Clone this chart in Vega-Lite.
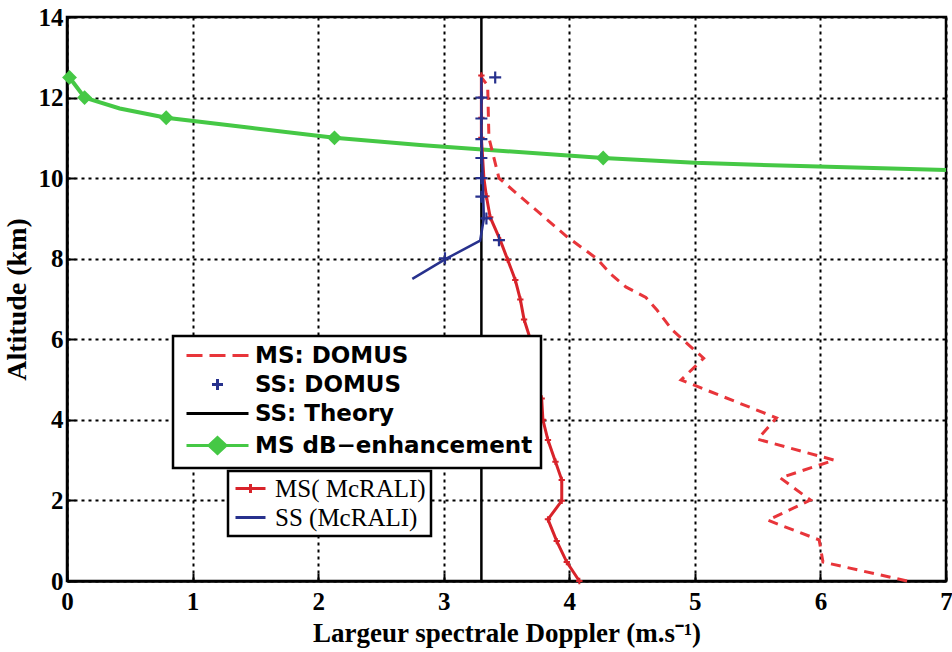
{
  "$schema": "https://vega.github.io/schema/vega-lite/v6.json",
  "width": 879,
  "height": 564,
  "autosize": {"type": "none"},
  "padding": {"left": 67, "top": 17, "right": 6, "bottom": 71},
  "background": "white",
  "config": {
    "view": {"stroke": "black", "strokeWidth": 2.5},
    "axis": {
      "domainColor": "black", "domainWidth": 2.5,
      "grid": true, "gridColor": "black", "gridDash": [3, 4], "gridWidth": 2, "gridOpacity": 1,
      "tickColor": "black", "tickWidth": 2, "tickSize": -8,
      "labelFont": "Liberation Serif", "labelFontWeight": "bold", "labelFontSize": 25, "labelColor": "black",
      "titleFont": "Liberation Serif", "titleFontWeight": "bold", "titleFontSize": 27, "titleColor": "black"
    },
    "legend": {"strokeWidth": 2.5}
  },
  "datasets": {
    "theory": [{"doppler": 3.3}],
    "green_line": [
      {"doppler": 0.02, "altitude": 12.5}, {"doppler": 0.14, "altitude": 12.0}, {"doppler": 0.42, "altitude": 11.73},
      {"doppler": 0.79, "altitude": 11.5}, {"doppler": 1.46, "altitude": 11.25}, {"doppler": 2.13, "altitude": 11.0},
      {"doppler": 2.81, "altitude": 10.82}, {"doppler": 3.5, "altitude": 10.67}, {"doppler": 4.27, "altitude": 10.5},
      {"doppler": 5.0, "altitude": 10.38}, {"doppler": 5.84, "altitude": 10.3}, {"doppler": 7.0, "altitude": 10.2}
    ],
    "green_markers": [
      {"doppler": 0.02, "altitude": 12.5}, {"doppler": 0.14, "altitude": 12.0}, {"doppler": 0.79, "altitude": 11.5},
      {"doppler": 2.13, "altitude": 11.0}, {"doppler": 4.27, "altitude": 10.5}
    ],
    "ms_domus": [
      {"doppler": 6.69, "altitude": 0.0}, {"doppler": 6.02, "altitude": 0.47}, {"doppler": 5.99, "altitude": 1.02},
      {"doppler": 5.58, "altitude": 1.51}, {"doppler": 5.92, "altitude": 2.01}, {"doppler": 5.68, "altitude": 2.56},
      {"doppler": 6.11, "altitude": 3.0}, {"doppler": 5.5, "altitude": 3.52}, {"doppler": 5.65, "altitude": 4.05},
      {"doppler": 4.89, "altitude": 4.99}, {"doppler": 5.07, "altitude": 5.53}, {"doppler": 4.95, "altitude": 5.86},
      {"doppler": 4.82, "altitude": 6.23}, {"doppler": 4.7, "altitude": 6.72}, {"doppler": 4.61, "altitude": 7.04},
      {"doppler": 4.45, "altitude": 7.3}, {"doppler": 4.33, "altitude": 7.62}, {"doppler": 4.22, "altitude": 8.0},
      {"doppler": 3.98, "altitude": 8.55}, {"doppler": 3.44, "altitude": 10.0}, {"doppler": 3.36, "altitude": 11.0},
      {"doppler": 3.35, "altitude": 12.3}, {"doppler": 3.3, "altitude": 12.5}
    ],
    "ss_domus": [
      {"doppler": 3.01, "altitude": 8.01}, {"doppler": 3.44, "altitude": 8.46}, {"doppler": 3.34, "altitude": 9.0},
      {"doppler": 3.3, "altitude": 9.54}, {"doppler": 3.3, "altitude": 10.0}, {"doppler": 3.3, "altitude": 10.5},
      {"doppler": 3.3, "altitude": 10.97}, {"doppler": 3.3, "altitude": 11.48}, {"doppler": 3.3, "altitude": 12.0},
      {"doppler": 3.41, "altitude": 12.5}
    ],
    "ms_mcrali": [
      {"doppler": 4.08, "altitude": 0.0}, {"doppler": 3.98, "altitude": 0.47}, {"doppler": 3.9, "altitude": 0.99},
      {"doppler": 3.83, "altitude": 1.53}, {"doppler": 3.94, "altitude": 1.99}, {"doppler": 3.94, "altitude": 2.51},
      {"doppler": 3.89, "altitude": 2.96}, {"doppler": 3.83, "altitude": 3.5}, {"doppler": 3.79, "altitude": 4.0},
      {"doppler": 3.78, "altitude": 4.53}, {"doppler": 3.73, "altitude": 4.99}, {"doppler": 3.7, "altitude": 5.48},
      {"doppler": 3.69, "altitude": 6.0}, {"doppler": 3.64, "altitude": 6.49}, {"doppler": 3.61, "altitude": 6.99},
      {"doppler": 3.57, "altitude": 7.47}, {"doppler": 3.51, "altitude": 7.97}, {"doppler": 3.45, "altitude": 8.46},
      {"doppler": 3.37, "altitude": 9.03}, {"doppler": 3.34, "altitude": 9.55}, {"doppler": 3.32, "altitude": 10.0},
      {"doppler": 3.31, "altitude": 10.5}, {"doppler": 3.3, "altitude": 11.0}, {"doppler": 3.3, "altitude": 11.5},
      {"doppler": 3.3, "altitude": 12.0}, {"doppler": 3.3, "altitude": 12.55}
    ],
    "ss_mcrali": [
      {"doppler": 2.75, "altitude": 7.5}, {"doppler": 3.02, "altitude": 8.0}, {"doppler": 3.29, "altitude": 8.45},
      {"doppler": 3.32, "altitude": 9.0}, {"doppler": 3.31, "altitude": 10.0}, {"doppler": 3.3, "altitude": 11.0},
      {"doppler": 3.3, "altitude": 12.5}
    ],
    "legend_a": [
      {"series": "MS: DOMUS"}, {"series": "SS: DOMUS"}, {"series": "SS: Theory"}, {"series": "MS dB\u2212enhancement"}
    ],
    "legend_b": [
      {"model": "MS( McRALI)"}, {"model": "SS (McRALI)"}
    ]
  },
  "layer": [
    {
      "data": {"name": "theory"},
      "mark": {"type": "rule", "color": "black", "strokeWidth": 2.5},
      "encoding": {
        "x": {"field": "doppler", "type": "quantitative",
              "scale": {"domain": [0, 7], "nice": false},
              "axis": {"values": [0, 1, 2, 3, 4, 5, 6, 7], "format": "d", "labelPadding": 16, "labelFlush": false,
                       "title": "Largeur spectrale Doppler (m.s\u207b\u00b9)", "titlePadding": 6}}
      }
    },
    {
      "data": {"name": "green_line"},
      "mark": {"type": "line", "color": "#45c845", "strokeWidth": 4},
      "encoding": {
        "x": {"field": "doppler", "type": "quantitative"},
        "y": {"field": "altitude", "type": "quantitative",
              "scale": {"domain": [0, 14], "nice": false},
              "axis": {"values": [0, 2, 4, 6, 8, 10, 12, 14], "format": "d", "labelPadding": 12, "labelFlush": false,
                       "title": "Altitude (km)", "titleFontSize": 28, "titlePadding": 7}}
      }
    },
    {
      "data": {"name": "ms_domus"},
      "mark": {"type": "line", "color": "#e8353a", "strokeWidth": 3, "strokeDash": [10, 7]},
      "encoding": {
        "x": {"field": "doppler", "type": "quantitative"},
        "y": {"field": "altitude", "type": "quantitative"},
        "order": {"field": "altitude", "type": "quantitative"}
      }
    },
    {
      "data": {"name": "ms_mcrali"},
      "mark": {"type": "line", "color": "#d8232a", "strokeWidth": 3,
               "point": {"shape": "M-1,0H1M0,-1V1", "size": 40, "filled": false, "strokeWidth": 2, "color": "#d8232a"}},
      "encoding": {
        "x": {"field": "doppler", "type": "quantitative"},
        "y": {"field": "altitude", "type": "quantitative"},
        "order": {"field": "altitude", "type": "quantitative"}
      }
    },
    {
      "data": {"name": "ss_mcrali"},
      "mark": {"type": "line", "color": "#27318d", "strokeWidth": 2.5},
      "encoding": {
        "x": {"field": "doppler", "type": "quantitative"},
        "y": {"field": "altitude", "type": "quantitative"},
        "order": {"field": "altitude", "type": "quantitative"}
      }
    },
    {
      "data": {"name": "ss_domus"},
      "mark": {"type": "point", "shape": "M-1,0H1M0,-1V1", "size": 144, "filled": false, "strokeWidth": 2.2, "color": "#27318d", "opacity": 1},
      "encoding": {
        "x": {"field": "doppler", "type": "quantitative"},
        "y": {"field": "altitude", "type": "quantitative"}
      }
    },
    {
      "data": {"name": "green_markers"},
      "mark": {"type": "point", "shape": "diamond", "size": 220, "filled": true, "color": "#45c845", "opacity": 1},
      "encoding": {
        "x": {"field": "doppler", "type": "quantitative"},
        "y": {"field": "altitude", "type": "quantitative"}
      }
    },
    {
      "data": {"name": "legend_a"},
      "mark": {"type": "point", "filled": true, "fill": "#45c845", "size": 400, "opacity": 0},
      "encoding": {
        "stroke": {"field": "series", "type": "nominal",
                   "scale": {"domain": ["MS: DOMUS", "SS: DOMUS", "SS: Theory", "MS dB\u2212enhancement"],
                             "range": ["#e8353a", "#27318d", "black", "#45c845"]},
                   "legend": {"orient": "none", "legendX": 106, "legendY": 319, "title": null,
                              "padding": 8, "strokeColor": "black", "fillColor": "white",
                              "labelFont": "DejaVu Sans", "labelFontWeight": "bold", "labelFontSize": 23,
                              "labelColor": "black", "labelOffset": 51, "labelLimit": 500, "rowPadding": 5,
                              "symbolOpacity": 1, "symbolFillColor": "#45c845", "symbolStrokeWidth": 3, "symbolSize": 400}},
        "shape": {"field": "series", "type": "nominal",
                  "scale": {"domain": ["MS: DOMUS", "SS: DOMUS", "SS: Theory", "MS dB\u2212enhancement"],
                            "range": ["M-0.6,0H1.0M1.7,0H3.3M4.0,0H5.6",
                                      "M1.95,0H3.05M2.5,-0.55V0.55",
                                      "M-0.6,0H5.6",
                                      "M-0.6,0H5.6M2.5,-0.8L3.35,0L2.5,0.8L1.65,0Z"]}}
      }
    },
    {
      "data": {"name": "legend_b"},
      "mark": {"type": "point", "filled": false, "size": 400, "opacity": 0},
      "encoding": {
        "stroke": {"field": "model", "type": "nominal",
                   "scale": {"domain": ["MS( McRALI)", "SS (McRALI)"], "range": ["#d8232a", "#27318d"]},
                   "legend": {"orient": "none", "legendX": 161, "legendY": 454, "title": null,
                              "padding": 5, "strokeColor": "black", "fillColor": "white",
                              "labelFont": "Liberation Serif", "labelFontSize": 25, "labelColor": "black",
                              "labelOffset": 17, "labelLimit": 500, "rowPadding": 3,
                              "symbolOpacity": 1, "symbolStrokeWidth": 3, "symbolSize": 400}},
        "shape": {"field": "model", "type": "nominal",
                  "scale": {"domain": ["MS( McRALI)", "SS (McRALI)"],
                            "range": ["M-1,0H2M0.5,-0.45V0.45", "M-1,0H2"]}}
      }
    }
  ],
  "resolve": {"scale": {"stroke": "independent", "shape": "independent"}}
}
